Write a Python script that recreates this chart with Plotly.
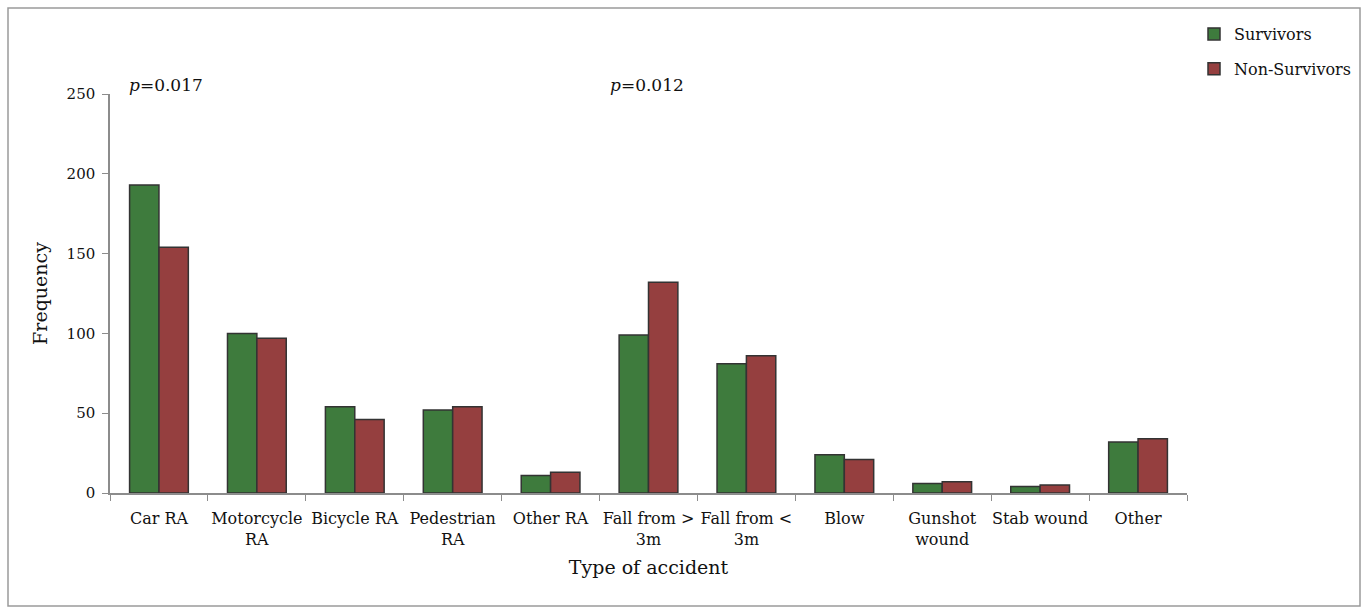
import plotly.graph_objects as go

categories = ["Car RA", "Motorcycle<br>RA", "Bicycle RA", "Pedestrian<br>RA", "Other RA",
              "Fall from ><br>3m", "Fall from <<br>3m", "Blow", "Gunshot<br>wound",
              "Stab wound", "Other"]
survivors = [193, 100, 54, 52, 11, 99, 81, 24, 6, 4, 32]
non_survivors = [154, 97, 46, 54, 13, 132, 86, 21, 7, 5, 34]
y_ticks = [0, 50, 100, 150, 200, 250]

FONT = "DejaVu Serif"
W, H = 1368, 612
L, R, T, B = 110, 181, 94, 119
pw, ph = W - L - R, H - T - B

fig = go.Figure()
fig.add_trace(go.Bar(x=categories, y=survivors, name="Survivors", legendgroup="s",
                     marker=dict(color="#3e7b3d", line=dict(color="#333333", width=1.5))))
fig.add_trace(go.Bar(x=categories, y=non_survivors, name="Non-Survivors", legendgroup="n",
                     marker=dict(color="#953f3f", line=dict(color="#333333", width=1.5))))

fig.update_layout(
    width=W, height=H,
    margin=dict(l=L, r=R, t=T, b=B),
    paper_bgcolor="white", plot_bgcolor="white",
    barmode="group", bargap=0.4, bargroupgap=0,
    font=dict(family=FONT, size=15, color="#111111"),
    legend=dict(x=(1194 - L) / pw, y=1 + (T - 17) / ph, xanchor="left", yanchor="top",
                font=dict(family=FONT, size=16), tracegroupgap=11,
                itemwidth=30, bgcolor="rgba(0,0,0,0)"),
    xaxis=dict(showline=True, linecolor="#8c8c8c", linewidth=1.5,
               ticks="outside", tickson="boundaries", ticklen=6, tickcolor="#8c8c8c",
               tickangle=0, tickfont=dict(family=FONT, size=16), ticklabelstandoff=10,
               title=dict(text="Type of accident", font=dict(family=FONT, size=19), standoff=13)),
    yaxis=dict(range=[0, 250], tickvals=y_ticks, showline=True, linecolor="#8c8c8c", linewidth=1.5,
               ticks="outside", ticklen=6, tickcolor="#8c8c8c", showgrid=False, zeroline=False,
               tickfont=dict(family=FONT, size=15), ticklabelstandoff=4,
               title=dict(text="Frequency", font=dict(family=FONT, size=19), standoff=14)),
    annotations=[
        dict(text="<i>p</i>=0.017", xref="paper", yref="paper", x=(127 - L) / pw, y=1 + (T - 85) / ph,
             xanchor="left", yanchor="middle", showarrow=False, font=dict(family=FONT, size=17)),
        dict(text="<i>p</i>=0.012", xref="paper", yref="paper", x=(608 - L) / pw, y=1 + (T - 85) / ph,
             xanchor="left", yanchor="middle", showarrow=False, font=dict(family=FONT, size=17)),
    ],
    shapes=[dict(type="rect", xref="paper", yref="paper",
                 x0=(8 - L) / pw, x1=(1360 - L) / pw,
                 y0=1 - (606 - T) / ph, y1=1 + (T - 8) / ph,
                 line=dict(color="#9a9a9a", width=1.5), fillcolor="rgba(0,0,0,0)")],
)

fig.write_html("out.html", config={"displayModeBar": False},
               post_script="document.body.style.margin='0';")
